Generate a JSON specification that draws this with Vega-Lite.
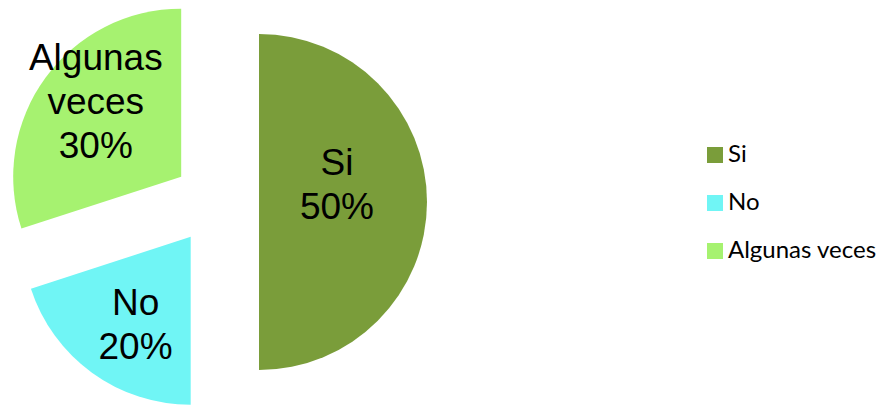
{
  "$schema": "https://vega.github.io/schema/vega-lite/v6.json",
  "width": 432,
  "height": 404,
  "padding": 0,
  "autosize": {"type": "pad"},
  "background": "white",
  "config": {"view": {"stroke": null}},
  "data": {
    "values": [
      {"categoria": "Si", "valor": 50, "orden": 1, "etiqueta": "Si\n50%"},
      {"categoria": "No", "valor": 20, "orden": 2, "etiqueta": "No\n20%"},
      {"categoria": "Algunas veces", "valor": 30, "orden": 3, "etiqueta": "Algunas\nveces\n30%"}
    ]
  },
  "transform": [
    {"stack": "valor", "groupby": [], "sort": [{"field": "orden", "order": "ascending"}], "as": ["v0", "v1"]}
  ],
  "layer": [
    {
      "transform": [{"filter": "datum.categoria === 'Si'"}],
      "mark": {"type": "arc", "outerRadius": 168, "xOffset": 43, "yOffset": 0},
      "encoding": {
        "theta": {"field": "v0", "type": "quantitative", "scale": {"domain": [0, 100]}},
        "theta2": {"field": "v1"},
        "color": {
          "field": "categoria",
          "type": "nominal",
          "scale": {"domain": ["Si", "No", "Algunas veces"], "range": ["#7A9D3A", "#70F5F5", "#A6F270"]},
          "legend": {
            "title": null,
            "orient": "none",
            "legendX": 703,
            "legendY": 143,
            "padding": 0,
            "symbolType": "square",
            "symbolSize": 256,
            "symbolStrokeWidth": 0,
            "labelFont": "Lato",
            "labelFontSize": 24,
            "labelColor": "#000000",
            "labelOffset": 1,
            "rowPadding": 24,
            "labelLimit": 300
          }
        }
      }
    },
    {
      "transform": [{"filter": "datum.categoria === 'No'"}],
      "mark": {"type": "arc", "outerRadius": 168, "xOffset": -25.3, "yOffset": 34.8},
      "encoding": {
        "theta": {"field": "v0", "type": "quantitative", "scale": {"domain": [0, 100]}},
        "theta2": {"field": "v1"},
        "color": {"field": "categoria", "type": "nominal"}
      }
    },
    {
      "transform": [{"filter": "datum.categoria === 'Algunas veces'"}],
      "mark": {"type": "arc", "outerRadius": 168, "xOffset": -34.8, "yOffset": -25.3},
      "encoding": {
        "theta": {"field": "v0", "type": "quantitative", "scale": {"domain": [0, 100]}},
        "theta2": {"field": "v1"},
        "color": {"field": "categoria", "type": "nominal"}
      }
    },
    {
      "mark": {"type": "text", "radius": 80, "xOffset": 43, "yOffset": 0, "dx": -2, "dy": -38, "font": "Liberation Sans", "fontSize": 37, "lineHeight": 44, "lineBreak": "\n", "color": "#000000", "align": "center", "baseline": "middle"},
      "encoding": {
        "theta": {"field": "valor", "type": "quantitative", "stack": true, "scale": {"domain": [0, 100]}},
        "order": {"field": "orden", "type": "quantitative", "sort": "ascending"},
        "text": {"condition": {"test": "datum.categoria === 'Si'", "field": "etiqueta"}, "value": ""}
      }
    },
    {
      "mark": {"type": "text", "radius": 104, "xOffset": -25.3, "yOffset": 34.8, "dx": 6, "dy": -17, "font": "Liberation Sans", "fontSize": 37, "lineHeight": 44, "lineBreak": "\n", "color": "#000000", "align": "center", "baseline": "middle"},
      "encoding": {
        "theta": {"field": "valor", "type": "quantitative", "stack": true, "scale": {"domain": [0, 100]}},
        "order": {"field": "orden", "type": "quantitative", "sort": "ascending"},
        "text": {"condition": {"test": "datum.categoria === 'No'", "field": "etiqueta"}, "value": ""}
      }
    },
    {
      "mark": {"type": "text", "radius": 113, "xOffset": -34.8, "yOffset": -25.3, "dx": 6, "dy": -51, "font": "Liberation Sans", "fontSize": 37, "lineHeight": 44, "lineBreak": "\n", "color": "#000000", "align": "center", "baseline": "middle"},
      "encoding": {
        "theta": {"field": "valor", "type": "quantitative", "stack": true, "scale": {"domain": [0, 100]}},
        "order": {"field": "orden", "type": "quantitative", "sort": "ascending"},
        "text": {"condition": {"test": "datum.categoria === 'Algunas veces'", "field": "etiqueta"}, "value": ""}
      }
    }
  ]
}
